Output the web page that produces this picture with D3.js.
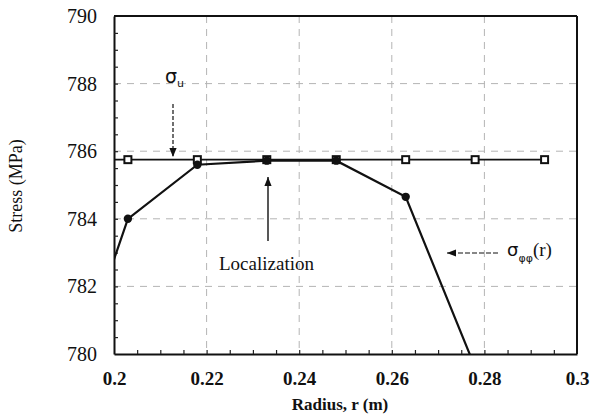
<!DOCTYPE html>
<html><head><meta charset="utf-8">
<script src="https://cdn.jsdelivr.net/npm/d3@7"></script>
<style>body{margin:0;background:#fff}svg{display:block}</style>
</head><body>
<svg id="c" width="592" height="417"></svg>
<script>
// Data (points outside the axis range are clipped, as in the original)
const radius = [0.188, 0.2, 0.203, 0.218, 0.233, 0.248, 0.263, 0.278];
const stressPhi = [null, 782.8, 784.0, 785.6, 785.72, 785.72, 784.65, 779.6];
const radiusU = [0.188, 0.203, 0.218, 0.233, 0.248, 0.263, 0.278, 0.293];
const stressU = [785.75, 785.75, 785.75, 785.75, 785.75, 785.75, 785.75, 785.75];
const xTicks = [0.2, 0.22, 0.24, 0.26, 0.28, 0.3];
const yTicks = [780, 782, 784, 786, 788, 790];
const circleMarkers = [0.203, 0.218, 0.233, 0.248, 0.263, 0.278];

const svg = d3.select("#c");
const W = 592, H = 417;
const m = {l:114, r:15, t:16, b:63};
const x = d3.scaleLinear().domain([0.2, 0.3]).range([m.l, W - m.r]);
const y = d3.scaleLinear().domain([780, 790]).range([H - m.b, m.t]);
const serif = "'Liberation Serif','Times New Roman',serif";

svg.append("defs").append("clipPath").attr("id","clip")
  .append("rect").attr("x", m.l).attr("y", m.t)
  .attr("width", W - m.l - m.r).attr("height", H - m.t - m.b);
const mk = svg.select("defs").append("marker").attr("id","ah")
  .attr("viewBox","0 0 10 10").attr("refX",10).attr("refY",5)
  .attr("markerWidth",9).attr("markerHeight",9).attr("markerUnits","userSpaceOnUse")
  .attr("orient","auto");
mk.append("path").attr("d","M0,1 L10,5 L0,9 Z").attr("fill","#111");

// grid
const g = svg.append("g");
g.selectAll(".gx").data(xTicks.slice(1,-1)).enter().append("line")
  .attr("x1", d=>x(d)).attr("x2", d=>x(d)).attr("y1", m.t).attr("y2", H-m.b)
  .attr("stroke","#b4b4b4").attr("stroke-width",1).attr("stroke-dasharray","7,6");
g.selectAll(".gy").data(yTicks.slice(1,-1)).enter().append("line")
  .attr("y1", d=>y(d)).attr("y2", d=>y(d)).attr("x1", m.l).attr("x2", W-m.r)
  .attr("stroke","#b4b4b4").attr("stroke-width",1).attr("stroke-dasharray","7,6");

// axes
const xAxis = svg.append("g").attr("transform",`translate(0,${H-m.b})`)
  .call(d3.axisBottom(x).tickValues(xTicks).tickSize(0).tickPadding(18)
    .tickFormat(d=>d3.format("")(+d.toFixed(2))));
xAxis.select(".domain").attr("stroke","#111").attr("stroke-width",2);
xAxis.selectAll("text").attr("font-family",serif).attr("font-size","19px")
  .attr("font-weight","bold").attr("fill","#111");
const yAxis = svg.append("g").attr("transform",`translate(${m.l},0)`)
  .call(d3.axisLeft(y).tickValues(yTicks).tickSize(0).tickPadding(17));
yAxis.select(".domain").attr("stroke","#111").attr("stroke-width",2);
yAxis.selectAll("text").attr("font-family",serif).attr("font-size","20px").attr("fill","#111");

// minor ticks (inward)
const xMinor = d3.range(0.205, 0.3, 0.005);
svg.append("g").attr("transform",`translate(0,${H-m.b})`)
  .call(d3.axisBottom(x).tickValues(xMinor).tickSize(-4).tickFormat(""))
  .call(s=>s.select(".domain").remove())
  .selectAll("line").attr("stroke","#222").attr("stroke-width",1.2);
const yMinor = d3.range(780.5, 790, 0.5);
svg.append("g").attr("transform",`translate(${m.l},0)`)
  .call(d3.axisLeft(y).tickValues(yMinor).tickSize(-4).tickFormat(""))
  .call(s=>s.select(".domain").remove())
  .selectAll("line").attr("stroke","#222").attr("stroke-width",1.2);

// top & right frame
svg.append("line").attr("x1",m.l).attr("x2",W-m.r).attr("y1",m.t).attr("y2",m.t)
  .attr("stroke","#111").attr("stroke-width",2);
svg.append("line").attr("x1",W-m.r).attr("x2",W-m.r).attr("y1",m.t).attr("y2",H-m.b)
  .attr("stroke","#111").attr("stroke-width",2);

// series
const plot = svg.append("g").attr("clip-path","url(#clip)");
const uPts = radiusU.map((r,i)=>({r, s:stressU[i]}));
plot.append("path").datum(uPts)
  .attr("d", d3.line().x(d=>x(d.r)).y(d=>y(d.s)))
  .attr("fill","none").attr("stroke","#111").attr("stroke-width",1.6);
plot.selectAll(".sq").data(uPts).enter().append("rect")
  .attr("x", d=>x(d.r)-3.5).attr("y", d=>y(d.s)-3.5).attr("width",7).attr("height",7)
  .attr("fill","#fff").attr("stroke","#111").attr("stroke-width",2);

const phiPts = radius.map((r,i)=>({r, s:stressPhi[i]})).filter(d=>d.s!==null);
plot.append("path").datum(phiPts)
  .attr("d", d3.line().x(d=>x(d.r)).y(d=>y(d.s)))
  .attr("fill","none").attr("stroke","#111").attr("stroke-width",2.2);
plot.selectAll(".ci").data(phiPts.filter(d=>circleMarkers.includes(d.r))).enter().append("circle")
  .attr("cx", d=>x(d.r)).attr("cy", d=>y(d.s)).attr("r",4.2).attr("fill","#111");

// annotations
// sigma_u
const su = svg.append("text").attr("x",165).attr("y",83).attr("font-family","'DejaVu Sans',sans-serif")
  .attr("font-size","19px").attr("fill","#111");
su.append("tspan").text("σ");
su.append("tspan").attr("dy",4).attr("font-size","11px").text("u");
svg.append("line").attr("x1",173).attr("x2",173).attr("y1",104).attr("y2",157)
  .attr("stroke","#111").attr("stroke-width",1.2).attr("stroke-dasharray","4,2")
  .attr("marker-end","url(#ah)");

// Localization
svg.append("text").attr("x",219).attr("y",270).attr("font-family",serif)
  .attr("font-size","19px").attr("fill","#111").text("Localization");
svg.append("line").attr("x1",268).attr("x2",268).attr("y1",241).attr("y2",177)
  .attr("stroke","#111").attr("stroke-width",1.4).attr("marker-end","url(#ah)");

// sigma_phiphi(r)
const sp = svg.append("text").attr("x",507).attr("y",256).attr("font-family","'DejaVu Sans',sans-serif")
  .attr("font-size","18px").attr("fill","#111");
sp.append("tspan").text("σ");
sp.append("tspan").attr("dy",6).attr("font-size","11px").text("φφ");
sp.append("tspan").attr("dy",-6).attr("font-family",serif).attr("font-size","19px").text("(r)");
svg.append("line").attr("x1",498).attr("x2",447).attr("y1",253).attr("y2",253)
  .attr("stroke","#111").attr("stroke-width",1.2).attr("stroke-dasharray","5,2")
  .attr("marker-end","url(#ah)");

// axis titles
svg.append("text").attr("x",340).attr("y",410).attr("text-anchor","middle")
  .attr("font-family",serif).attr("font-size","17px").attr("font-weight","bold")
  .attr("fill","#111").text("Radius, r (m)");
svg.append("text").attr("transform","translate(22,186) rotate(-90)").attr("text-anchor","middle")
  .attr("font-family",serif).attr("font-size","18px").attr("fill","#111").text("Stress (MPa)");
</script>
</body></html>
